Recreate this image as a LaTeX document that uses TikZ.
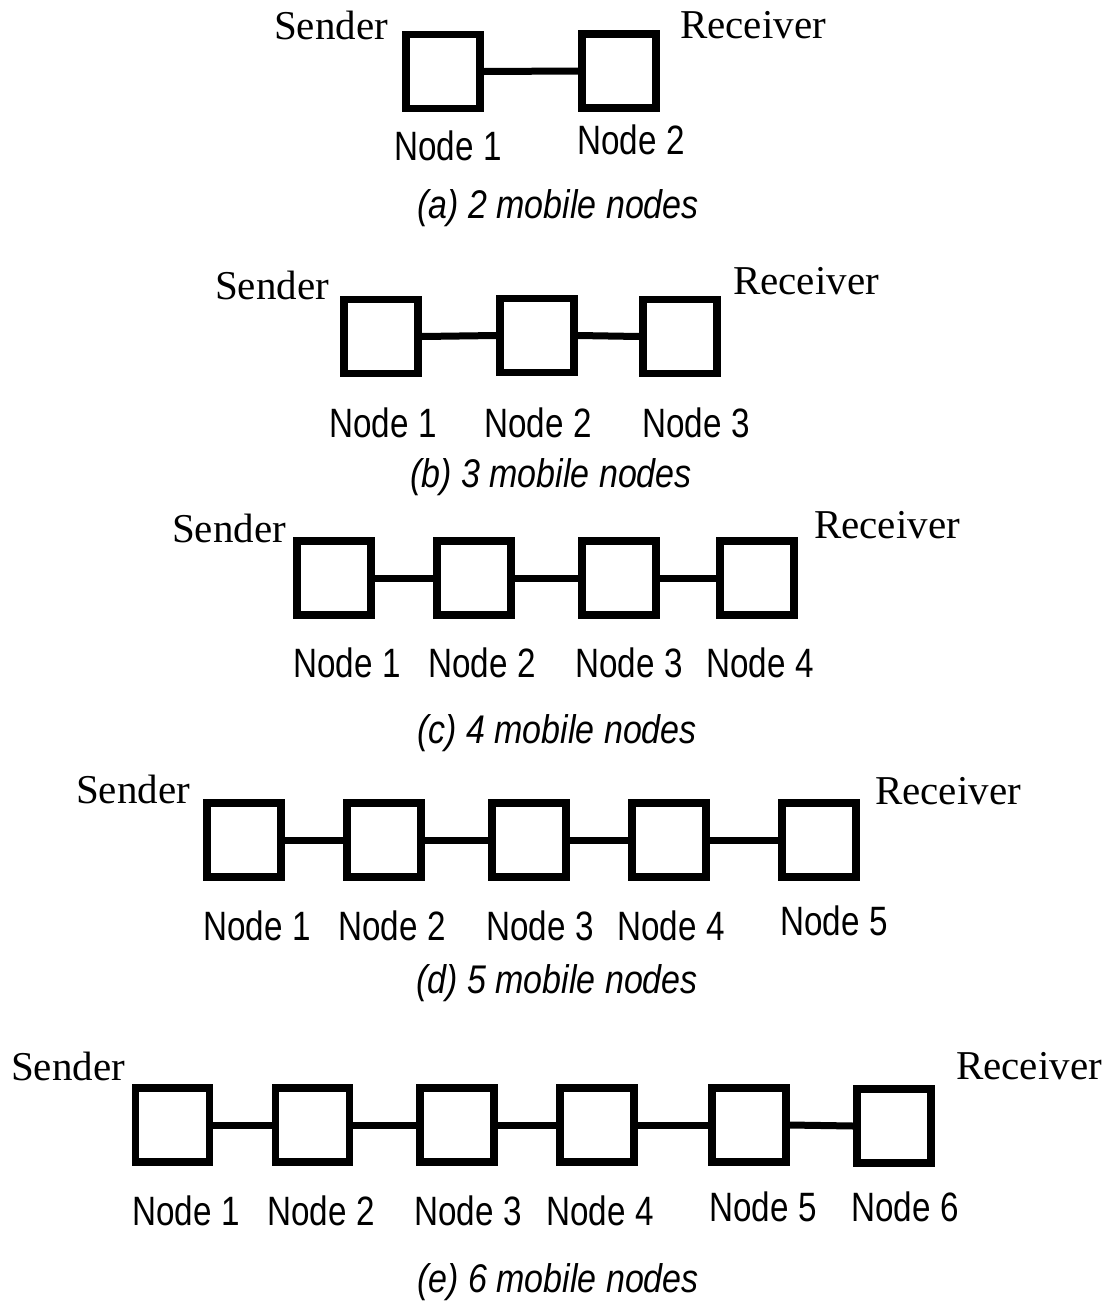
\documentclass[tikz,border=0pt]{standalone}
\usepackage{fontspec}
\setmainfont{Liberation Serif}
\newfontfamily\lsans{Liberation Sans}
\begin{document}
\begin{tikzpicture}[x=1pt,y=-1pt,
 box/.style={draw,line width=7.5pt,minimum width=74pt,minimum height=74pt,inner sep=0pt},
 link/.style={line width=7pt},
 role/.style={font=\fontsize{41}{41}\selectfont,inner sep=0pt},
 lbl/.style={font=\lsans\fontsize{41}{41}\selectfont,inner sep=0pt,xscale=0.81},
 captext/.style={font=\lsans\itshape\fontsize{40}{40}\selectfont,inner sep=0pt,xscale=0.85}]
\useasboundingbox (0,0) rectangle (1115,1304);
% (a)
\node[role] (aS) at (331,25) {Sender};
\node[role] (aR) at (753,25) {Receiver};
\node[box] (a1) at (443,71.5) {};
\node[box] (a2) at (619,71) {};
\draw[link] (a1.east) -- (a2.west);
\node[lbl] (a1l) at (448,146) {Node 1};
\node[lbl] (a2l) at (631,140) {Node 2};
\node[captext] (acap) at (558,208) {(a) 2 mobile nodes};
% (b)
\node[role] (bS) at (272,285) {Sender};
\node[role] (bR) at (806,281) {Receiver};
\node[box] (b1) at (381,336.5) {};
\node[box] (b2) at (537,335.5) {};
\node[box] (b3) at (680,336.5) {};
\draw[link] (b1.east) -- (b2.west);
\draw[link] (b2.east) -- (b3.west);
\node[lbl] (b1l) at (383,423) {Node 1};
\node[lbl] (b2l) at (538,423) {Node 2};
\node[lbl] (b3l) at (696,423) {Node 3};
\node[captext] (bcap) at (551,477) {(b) 3 mobile nodes};
% (c)
\node[role] (cS) at (229,528) {Sender};
\node[role] (cR) at (887,525) {Receiver};
\node[box] (c1) at (334,578) {};
\node[box] (c2) at (474,578) {};
\node[box] (c3) at (619,578) {};
\node[box] (c4) at (757,578) {};
\draw[link] (c1.east) -- (c2.west);
\draw[link] (c2.east) -- (c3.west);
\draw[link] (c3.east) -- (c4.west);
\node[lbl] (c1l) at (347,663) {Node 1};
\node[lbl] (c2l) at (482,663) {Node 2};
\node[lbl] (c3l) at (629,663) {Node 3};
\node[lbl] (c4l) at (760,663) {Node 4};
\node[captext] (ccap) at (557,733) {(c) 4 mobile nodes};
% (d)
\node[role] (dS) at (133,789) {Sender};
\node[role] (dR) at (948,791) {Receiver};
\node[box] (d1) at (244,840) {};
\node[box] (d2) at (384,840) {};
\node[box] (d3) at (529,840) {};
\node[box] (d4) at (669,840) {};
\node[box] (d5) at (819,840) {};
\draw[link] (d1.east) -- (d2.west);
\draw[link] (d2.east) -- (d3.west);
\draw[link] (d3.east) -- (d4.west);
\draw[link] (d4.east) -- (d5.west);
\node[lbl] (d1l) at (257,926) {Node 1};
\node[lbl] (d2l) at (392,926) {Node 2};
\node[lbl] (d3l) at (540,926) {Node 3};
\node[lbl] (d4l) at (671,926) {Node 4};
\node[lbl] (d5l) at (834,921) {Node 5};
\node[captext] (dcap) at (557,983) {(d) 5 mobile nodes};
% (e)
\node[role] (eS) at (68,1066) {Sender};
\node[role] (eR) at (1029,1066) {Receiver};
\node[box] (e1) at (172.5,1125) {};
\node[box] (e2) at (312.5,1125) {};
\node[box] (e3) at (457,1125) {};
\node[box] (e4) at (597,1125) {};
\node[box] (e5) at (749,1125) {};
\node[box] (e6) at (894,1126) {};
\draw[link] (e1.east) -- (e2.west);
\draw[link] (e2.east) -- (e3.west);
\draw[link] (e3.east) -- (e4.west);
\draw[link] (e4.east) -- (e5.west);
\draw[link] (e5.east) -- (e6.west);
\node[lbl] (e1l) at (186,1211) {Node 1};
\node[lbl] (e2l) at (321,1211) {Node 2};
\node[lbl] (e3l) at (468,1211) {Node 3};
\node[lbl] (e4l) at (600,1211) {Node 4};
\node[lbl] (e5l) at (763,1207) {Node 5};
\node[lbl] (e6l) at (905,1207) {Node 6};
\node[captext] (ecap) at (558,1282) {(e) 6 mobile nodes};
\end{tikzpicture}
\end{document}
